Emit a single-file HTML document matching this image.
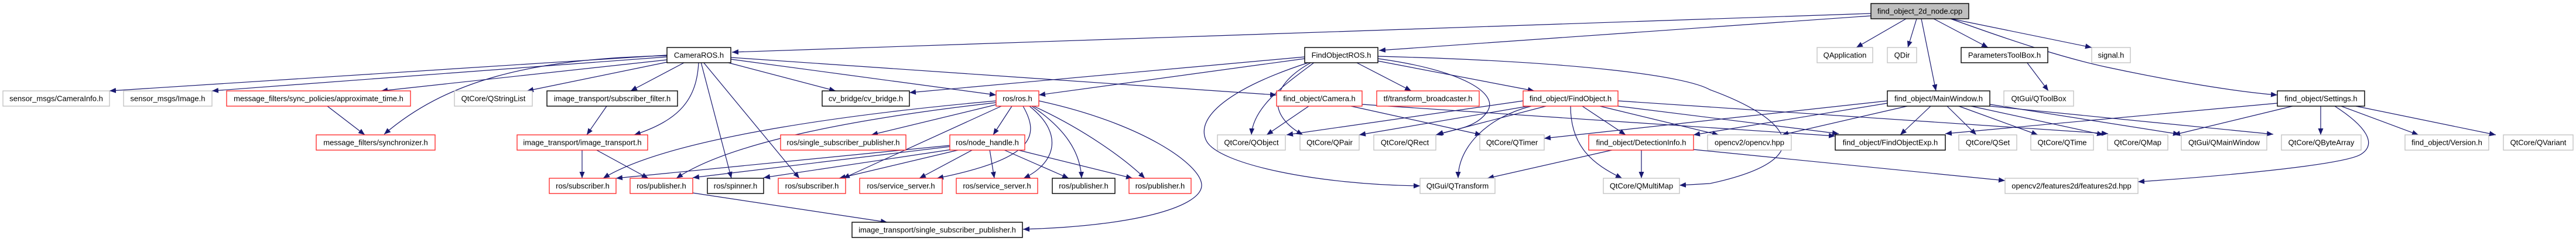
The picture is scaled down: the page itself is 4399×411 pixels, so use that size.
<!DOCTYPE html>
<html><head><meta charset="utf-8"><style>
html,body{margin:0;padding:0;background:#fff}
svg{display:block}
text{font-family:"Liberation Sans",sans-serif;font-size:13px;fill:#000}
.e{fill:none;stroke:#191970;stroke-width:1.2;marker-end:url(#a)}
.g{fill:#fff;stroke:#bfbfbf;stroke-width:1.3}
.r{fill:#fff;stroke:#ff2020;stroke-width:1.3}
.b{fill:#fff;stroke:#000;stroke-width:1.4}
</style></head><body>
<svg width="4399" height="411" viewBox="0 0 4399 411" xmlns="http://www.w3.org/2000/svg">
<defs><marker id="a" markerUnits="userSpaceOnUse" markerWidth="12" markerHeight="10" refX="11" refY="4.5" orient="auto"><path d="M0,0 L11,4.5 L0,9 z" fill="#191970"/></marker></defs>
<g>
<!-- root edges -->
<path class="e" d="M3195,23 L1250,89"/>
<path class="e" d="M3195,27 L2355,86"/>
<path class="e" d="M3255,32 L3170,81"/>
<path class="e" d="M3273,32 L3258,81"/>
<path class="e" d="M3281,32 L3306,155"/>
<path class="e" d="M3302,32 L3395,81"/>
<path class="e" d="M3332,32 L3572,81"/>
<path class="e" d="M3331,32 C3450,75 3530,100 3600,115 S3800,155 3889,162"/>
<path class="e" d="M3461,106 L3498,155"/>
<!-- CameraROS -->
<path class="e" d="M1139,94 L187,155"/>
<path class="e" d="M1139,97 L362,155"/>
<path class="e" d="M1139,102 L651,155"/>
<path class="e" d="M1139,95 C900,100 760,140 656,229"/>
<path class="e" d="M1139,106 L900,155"/>
<path class="e" d="M1170,106 L1077,155"/>
<path class="e" d="M1193,106 C1190,170 1160,205 1083,230"/>
<path class="e" d="M1197,106 L1249,304"/>
<path class="e" d="M1201,106 L1365,304"/>
<path class="e" d="M1240,106 L1427,155"/>
<path class="e" d="M1248,101 L1701,162"/>
<path class="e" d="M1248,98 L2180,162"/>
<path class="e" d="M1036,181 L1002,230"/>
<path class="e" d="M559,181 L623,230"/>
<path class="e" d="M994,255 L994,304"/>
<path class="e" d="M1017,255 L1107,304"/>
<path class="e" d="M1183,329 L1515,379"/>
<!-- ros.h -->
<path class="e" d="M1701,172 C1500,190 1150,230 1030,304"/>
<path class="e" d="M1701,175 C1480,200 1250,240 1155,304"/>
<path class="e" d="M1703,178 L1488,230"/>
<path class="e" d="M1728,181 L1696,230"/>
<path class="e" d="M1710,181 L1440,304"/>
<path class="e" d="M1747,181 C1775,230 1770,270 1600,304"/>
<path class="e" d="M1758,181 C1820,230 1800,280 1748,304"/>
<path class="e" d="M1762,181 C1820,220 1845,260 1847,304"/>
<path class="e" d="M1765,181 C1850,220 1920,270 1955,304"/>
<path class="e" d="M1774,172 C1950,210 2050,280 2052,315 S1950,385 1747,391"/>
<!-- node_handle -->
<path class="e" d="M1662,255 L1570,304"/>
<path class="e" d="M1690,255 L1698,304"/>
<path class="e" d="M1713,255 L1825,304"/>
<path class="e" d="M1735,255 L1934,304"/>
<path class="e" d="M1622,248 L1052,304"/>
<path class="e" d="M1622,250 L1183,303"/>
<path class="e" d="M1625,255 L1304,303"/>
<path class="e" d="M1640,255 L1433,304"/>
<!-- FindObjectROS -->
<path class="e" d="M2228,97 L1553,158"/>
<path class="e" d="M2228,100 L1774,162"/>
<path class="e" d="M2245,106 C2200,140 2140,180 2137,230"/>
<path class="e" d="M2240,106 C2160,150 2170,200 2225,230"/>
<path class="e" d="M2237,106 C2100,150 2040,200 2060,240 S2250,315 2425,317"/>
<path class="e" d="M2315,106 L2410,155"/>
<path class="e" d="M2353,104 L2620,155"/>
<path class="e" d="M2353,100 C2500,120 2560,160 2540,190 S2480,220 2454,230"/>
<path class="e" d="M2353,96 C2700,105 2880,130 2920,153 C3050,200 3120,270 2920,313 L2868,316"/>
<!-- Camera.h -->
<path class="e" d="M2235,181 L2163,230"/>
<path class="e" d="M2307,181 L2530,230"/>
<path class="e" d="M2326,178 L3134,232"/>
<!-- FindObject.h -->
<path class="e" d="M2601,172 L2197,230"/>
<path class="e" d="M2610,181 L2321,230"/>
<path class="e" d="M2640,181 L2452,230"/>
<path class="e" d="M2615,181 C2540,200 2490,250 2490,304"/>
<path class="e" d="M2702,181 L2776,230"/>
<path class="e" d="M2682,181 C2682,250 2720,280 2770,304"/>
<path class="e" d="M2732,181 L2935,230"/>
<path class="e" d="M2763,181 L3140,228"/>
<path class="e" d="M2763,172 L3600,228"/>
<!-- DetectionInfo -->
<path class="e" d="M2757,255 L2540,304"/>
<path class="e" d="M2803,255 L2803,304"/>
<path class="e" d="M2892,255 L3424,308"/>
<!-- MainWindow -->
<path class="e" d="M3297,181 L3245,230"/>
<path class="e" d="M3325,181 L3375,230"/>
<path class="e" d="M3345,181 L3480,230"/>
<path class="e" d="M3366,181 L3592,230"/>
<path class="e" d="M3398,178 L3722,229"/>
<path class="e" d="M3398,181 L3882,229"/>
<path class="e" d="M3257,181 L3043,230"/>
<path class="e" d="M3223,176 L2892,230"/>
<path class="e" d="M3223,172 L2637,236"/>
<!-- Settings -->
<path class="e" d="M3915,181 L3712,230"/>
<path class="e" d="M3963,181 L3963,230"/>
<path class="e" d="M3998,181 L4130,230"/>
<path class="e" d="M4023,181 L4262,230"/>
<path class="e" d="M3889,176 L3322,228"/>
<path class="e" d="M3987,181 C4040,215 4060,245 4032,263 S3800,300 3651,310"/>
</g>
<g>
<rect x="3195" y="6" width="167" height="26" fill="#bfbfbf" stroke="#000" stroke-width="1.4"/><text x="3278.5" y="23.5" text-anchor="middle">find_object_2d_node.cpp</text>
<rect class="b" x="1139" y="81" width="109" height="26"/><text x="1193.5" y="98.5" text-anchor="middle">CameraROS.h</text>
<rect class="b" x="2228" y="81" width="125" height="26"/><text x="2290.5" y="98.5" text-anchor="middle">FindObjectROS.h</text>
<rect class="g" x="3103" y="81" width="95" height="26"/><text x="3150.5" y="98.5" text-anchor="middle">QApplication</text>
<rect class="g" x="3223" y="81" width="50" height="26"/><text x="3248" y="98.5" text-anchor="middle">QDir</text>
<rect class="b" x="3349" y="81" width="148" height="26"/><text x="3423" y="98.5" text-anchor="middle">ParametersToolBox.h</text>
<rect class="g" x="3572" y="81" width="66" height="26"/><text x="3605" y="98.5" text-anchor="middle">signal.h</text>

<rect class="g" x="5" y="155" width="182" height="26"/><text x="96" y="172.5" text-anchor="middle">sensor_msgs/CameraInfo.h</text>
<rect class="g" x="211" y="155" width="151" height="26"/><text x="286.5" y="172.5" text-anchor="middle">sensor_msgs/Image.h</text>
<rect class="r" x="387" y="155" width="314" height="26"/><text x="544" y="172.5" text-anchor="middle">message_filters/sync_policies/approximate_time.h</text>
<rect class="g" x="776" y="155" width="133" height="26"/><text x="842.5" y="172.5" text-anchor="middle">QtCore/QStringList</text>
<rect class="b" x="934" y="155" width="223" height="26"/><text x="1045.5" y="172.5" text-anchor="middle">image_transport/subscriber_filter.h</text>
<rect class="b" x="1404" y="155" width="149" height="26"/><text x="1478.5" y="172.5" text-anchor="middle">cv_bridge/cv_bridge.h</text>
<rect class="r" x="1701" y="155" width="73" height="26"/><text x="1737.5" y="172.5" text-anchor="middle">ros/ros.h</text>
<rect class="r" x="2180" y="155" width="146" height="26"/><text x="2253" y="172.5" text-anchor="middle">find_object/Camera.h</text>
<rect class="r" x="2351" y="155" width="175" height="26"/><text x="2438.5" y="172.5" text-anchor="middle">tf/transform_broadcaster.h</text>
<rect class="r" x="2601" y="155" width="162" height="26"/><text x="2682" y="172.5" text-anchor="middle">find_object/FindObject.h</text>
<rect class="b" x="3223" y="155" width="175" height="26"/><text x="3310.5" y="172.5" text-anchor="middle">find_object/MainWindow.h</text>
<rect class="g" x="3422" y="155" width="119" height="26"/><text x="3481.5" y="172.5" text-anchor="middle">QtGui/QToolBox</text>
<rect class="b" x="3889" y="155" width="149" height="26"/><text x="3963.5" y="172.5" text-anchor="middle">find_object/Settings.h</text>

<rect class="r" x="540" y="230" width="203" height="26"/><text x="641.5" y="247.5" text-anchor="middle">message_filters/synchronizer.h</text>
<rect class="r" x="883" y="230" width="223" height="26"/><text x="994.5" y="247.5" text-anchor="middle">image_transport/image_transport.h</text>
<rect class="r" x="1333" y="230" width="214" height="26"/><text x="1440" y="247.5" text-anchor="middle">ros/single_subscriber_publisher.h</text>
<rect class="r" x="1622" y="230" width="128" height="26"/><text x="1686" y="247.5" text-anchor="middle">ros/node_handle.h</text>
<rect class="g" x="2079" y="230" width="116" height="26"/><text x="2137" y="247.5" text-anchor="middle">QtCore/QObject</text>
<rect class="g" x="2220" y="230" width="101" height="26"/><text x="2270.5" y="247.5" text-anchor="middle">QtCore/QPair</text>
<rect class="g" x="2346" y="230" width="106" height="26"/><text x="2399" y="247.5" text-anchor="middle">QtCore/QRect</text>
<rect class="g" x="2527" y="230" width="110" height="26"/><text x="2582" y="247.5" text-anchor="middle">QtCore/QTimer</text>
<rect class="r" x="2713" y="230" width="179" height="26"/><text x="2802.5" y="247.5" text-anchor="middle">find_object/DetectionInfo.h</text>
<rect class="g" x="2916" y="230" width="143" height="26"/><text x="2987.5" y="247.5" text-anchor="middle">opencv2/opencv.hpp</text>
<rect class="b" x="3134" y="230" width="188" height="26"/><text x="3228" y="247.5" text-anchor="middle">find_object/FindObjectExp.h</text>
<rect class="g" x="3345" y="230" width="99" height="26"/><text x="3394.5" y="247.5" text-anchor="middle">QtCore/QSet</text>
<rect class="g" x="3468" y="230" width="107" height="26"/><text x="3521.5" y="247.5" text-anchor="middle">QtCore/QTime</text>
<rect class="g" x="3599" y="230" width="103" height="26"/><text x="3650.5" y="247.5" text-anchor="middle">QtCore/QMap</text>
<rect class="g" x="3725" y="230" width="146" height="26"/><text x="3798" y="247.5" text-anchor="middle">QtGui/QMainWindow</text>
<rect class="g" x="3896" y="230" width="136" height="26"/><text x="3964" y="247.5" text-anchor="middle">QtCore/QByteArray</text>
<rect class="g" x="4107" y="230" width="143" height="26"/><text x="4178.5" y="247.5" text-anchor="middle">find_object/Version.h</text>
<rect class="g" x="4275" y="230" width="119" height="26"/><text x="4334.5" y="247.5" text-anchor="middle">QtCore/QVariant</text>

<rect class="r" x="938" y="304" width="114" height="26"/><text x="995" y="321.5" text-anchor="middle">ros/subscriber.h</text>
<rect class="r" x="1076" y="304" width="107" height="26"/><text x="1129.5" y="321.5" text-anchor="middle">ros/publisher.h</text>
<rect class="b" x="1208" y="304" width="96" height="26"/><text x="1256" y="321.5" text-anchor="middle">ros/spinner.h</text>
<rect class="r" x="1329" y="304" width="115" height="26"/><text x="1386.5" y="321.5" text-anchor="middle">ros/subscriber.h</text>
<rect class="r" x="1468" y="304" width="141" height="26"/><text x="1538.5" y="321.5" text-anchor="middle">ros/service_server.h</text>
<rect class="r" x="1633" y="304" width="139" height="26"/><text x="1702.5" y="321.5" text-anchor="middle">ros/service_server.h</text>
<rect class="b" x="1797" y="304" width="107" height="26"/><text x="1850.5" y="321.5" text-anchor="middle">ros/publisher.h</text>
<rect class="r" x="1928" y="304" width="106" height="26"/><text x="1981" y="321.5" text-anchor="middle">ros/publisher.h</text>
<rect class="g" x="2425" y="304" width="128" height="26"/><text x="2489" y="321.5" text-anchor="middle">QtGui/QTransform</text>
<rect class="g" x="2738" y="304" width="130" height="26"/><text x="2803" y="321.5" text-anchor="middle">QtCore/QMultiMap</text>
<rect class="g" x="3424" y="304" width="227" height="26"/><text x="3537.5" y="321.5" text-anchor="middle">opencv2/features2d/features2d.hpp</text>

<rect class="b" x="1455" y="379" width="291" height="26"/><text x="1600.5" y="396.5" text-anchor="middle">image_transport/single_subscriber_publisher.h</text>
</g>
</svg>
</body></html>
